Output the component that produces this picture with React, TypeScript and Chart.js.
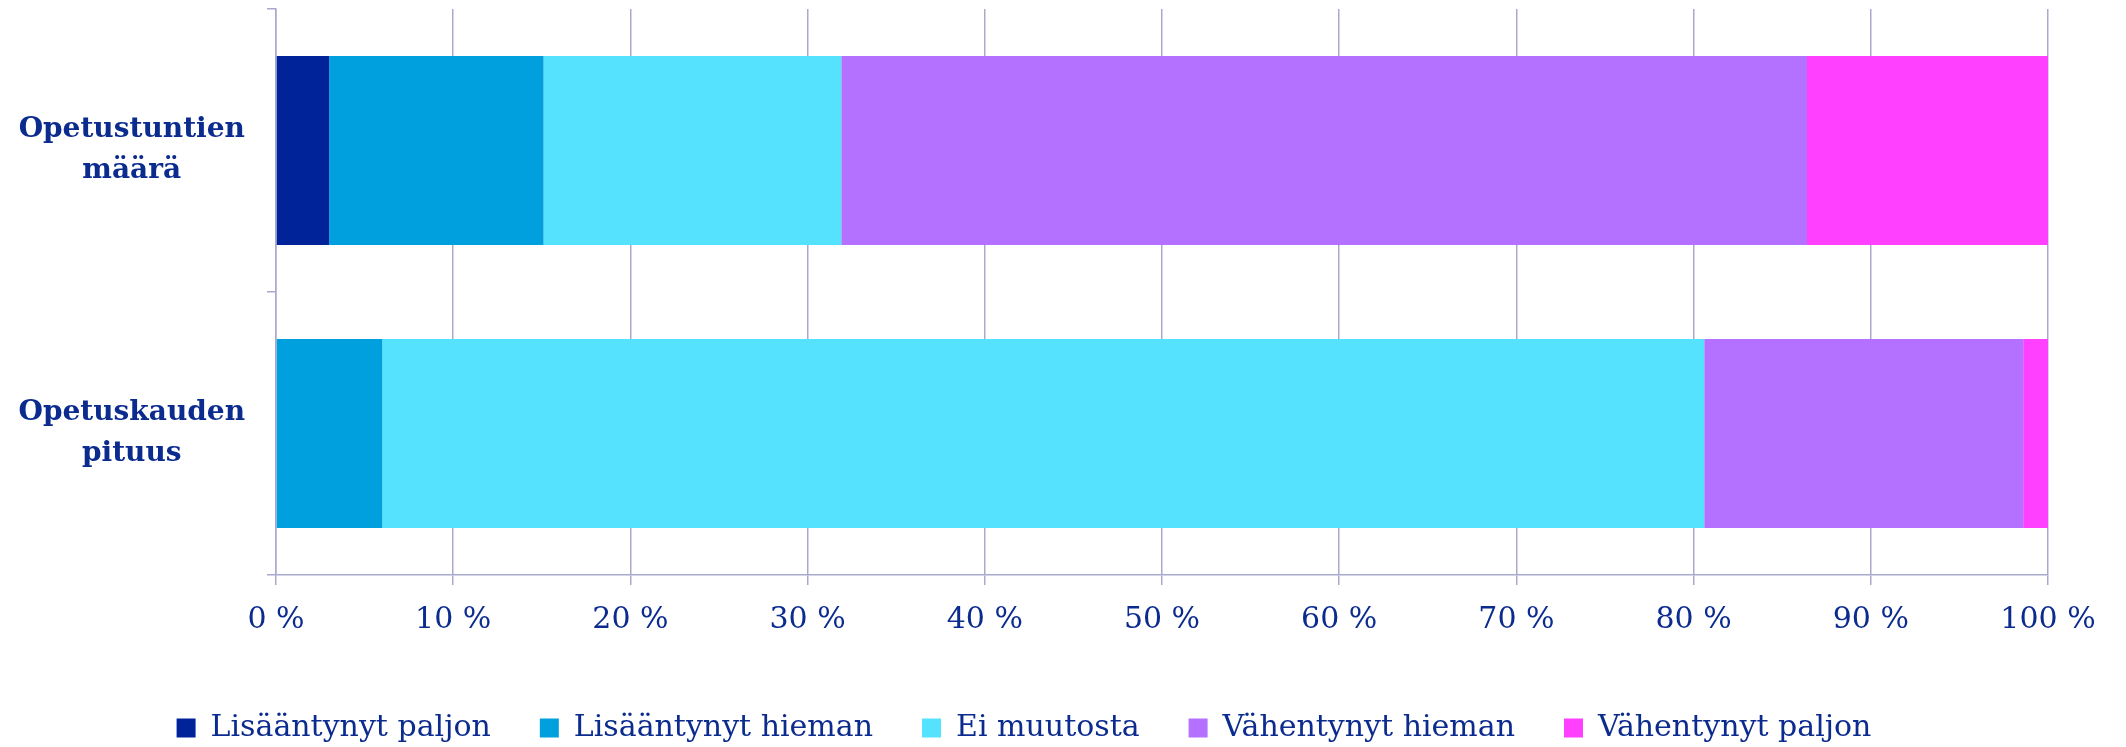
import React, { useEffect, useRef } from 'react';
import { Chart, registerables } from 'chart.js';

Chart.register(...registerables);

const categories = [['Opetustuntien', 'määrä'], ['Opetuskauden', 'pituus']];
const seriesNames = ['Lisääntynyt paljon', 'Lisääntynyt hieman', 'Ei muutosta', 'Vähentynyt hieman', 'Vähentynyt paljon'];
const lisaantynytPaljon = [3.0, 0];
const lisaantynytHieman = [12.1, 6.0];
const eiMuutosta = [16.8, 74.6];
const vahentynytHieman = [54.5, 18.0];
const vahentynytPaljon = [13.6, 1.4];
const seriesColors = ['#00239A', '#00A0DF', '#55E2FF', '#B471FF', '#FF40FF'];
const xTickStep = 10;
const xTickSuffix = ' %';

const textColor = '#0B2B8F';
const gridColor = '#A9A9CE';
const fontFamily = '"DejaVu Serif", serif';

export default function App() {
  const canvasRef = useRef<HTMLCanvasElement | null>(null);

  useEffect(() => {
    if (!canvasRef.current) return;
    const seriesValues = [lisaantynytPaljon, lisaantynytHieman, eiMuutosta, vahentynytHieman, vahentynytPaljon];
    const chart = new Chart(canvasRef.current, {
      type: 'bar',
      data: {
        labels: categories as any,
        datasets: seriesNames.map((name, i) => ({
          label: name,
          data: seriesValues[i],
          backgroundColor: seriesColors[i],
          borderWidth: 0,
          barPercentage: 0.667,
          categoryPercentage: 1.0,
        })),
      },
      options: {
        indexAxis: 'y',
        animation: false,
        responsive: true,
        maintainAspectRatio: false,
        layout: { padding: { top: 9, right: 78, left: 0, bottom: -6 } },
        plugins: {
          tooltip: { enabled: false },
          legend: {
            position: 'bottom',
            align: 'center',
            labels: {
              boxWidth: 19,
              boxHeight: 19,
              padding: 49,
              color: textColor,
              font: { family: fontFamily, size: 30 },
            },
          },
        },
        scales: {
          x: {
            stacked: true,
            min: 0,
            max: 100,
            ticks: {
              stepSize: xTickStep,
              color: textColor,
              padding: 17,
              font: { family: fontFamily, size: 30 },
              callback: (v: any) => v + xTickSuffix,
            },
            grid: { color: gridColor, lineWidth: 1.5, tickLength: 10 },
            border: { color: gridColor, width: 1.5 },
            afterFit: (scale: any) => { scale.height = 89; },
          },
          y: {
            stacked: true,
            ticks: {
              color: textColor,
              crossAlign: 'center',
              padding: 22,
              font: { family: fontFamily, size: 28, weight: 'bold', lineHeight: 1.46 },
            },
            grid: { drawOnChartArea: false, color: gridColor, lineWidth: 1.5, tickLength: 9, offset: true },
            border: { color: gridColor, width: 1.5 },
            afterFit: (scale: any) => {
              scale.width = 276;
              scale.paddingTop = 0;
              scale.paddingBottom = 0;
            },
          },
        },
      } as any,
    });
    return () => chart.destroy();
  }, []);

  return (
    <div style={{ position: 'fixed', left: 0, top: 0, width: 2126, height: 747, background: '#fff' }}>
      <canvas ref={canvasRef} />
    </div>
  );
}
